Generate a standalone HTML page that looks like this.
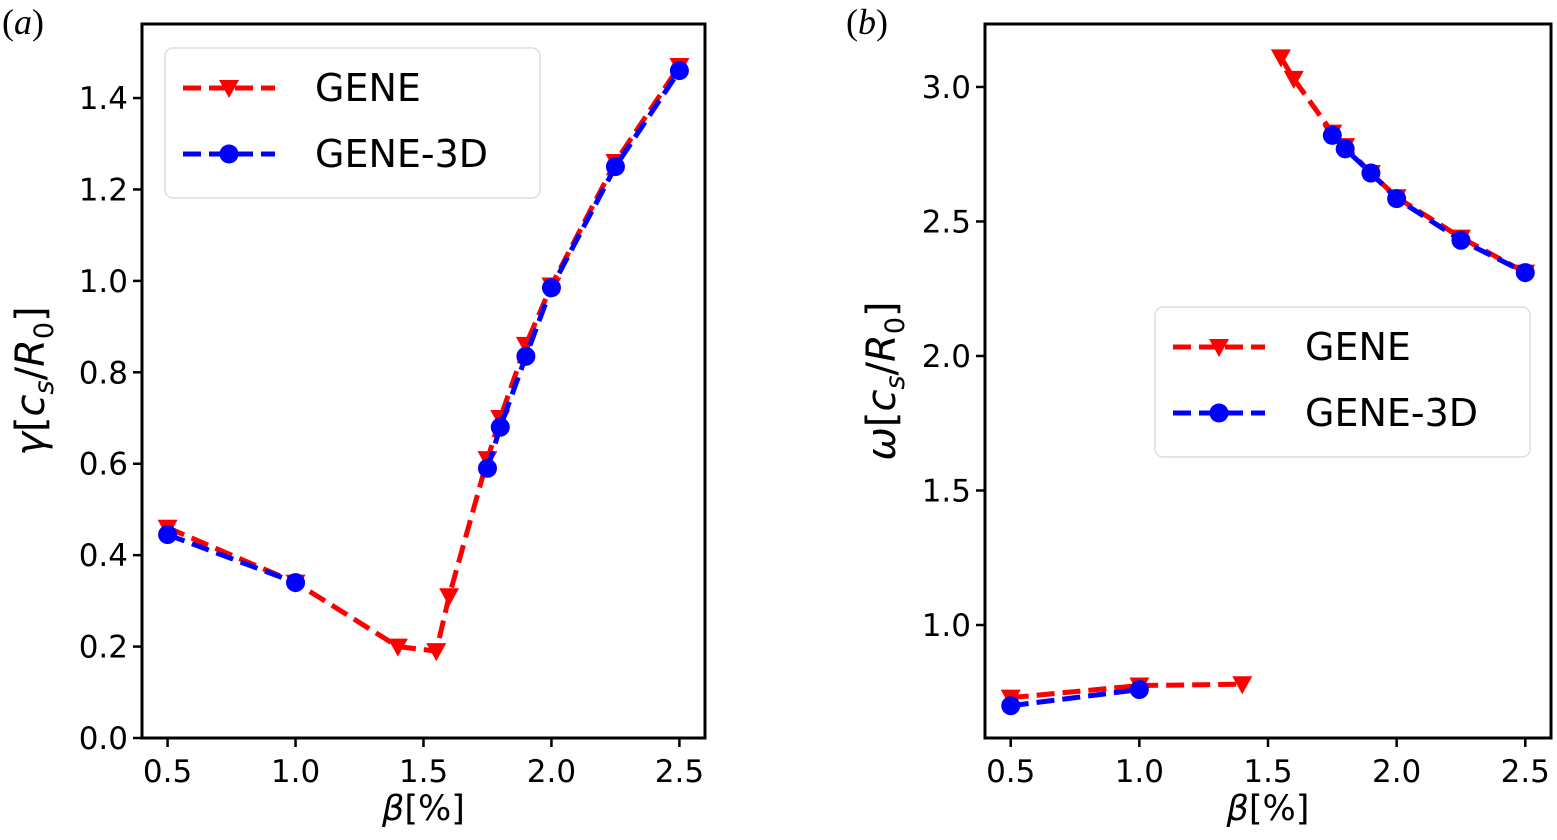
<!DOCTYPE html>
<html><head><meta charset="utf-8">
<style>
html,body{margin:0;padding:0;background:#fff;}
svg{display:block;font-family:"DejaVu Sans","Liberation Sans",sans-serif;}
</style></head>
<body>
<svg id="fig" width="1557" height="840" viewBox="0 0 1557 840" xmlns="http://www.w3.org/2000/svg"></svg>
<script>
const xTicks = [0.5, 1.0, 1.5, 2.0, 2.5];
const xTickLabels = ["0.5", "1.0", "1.5", "2.0", "2.5"];
const gammaTicks = [0.0, 0.2, 0.4, 0.6, 0.8, 1.0, 1.2, 1.4];
const gammaTickLabels = ["0.0", "0.2", "0.4", "0.6", "0.8", "1.0", "1.2", "1.4"];
const omegaTicks = [1.0, 1.5, 2.0, 2.5, 3.0];
const omegaTickLabels = ["1.0", "1.5", "2.0", "2.5", "3.0"];
const geneBeta = [0.5, 1.0, 1.4, 1.55, 1.6, 1.75, 1.8, 1.9, 2.0, 2.25, 2.5];
const geneGamma = [0.46, 0.34, 0.20, 0.19, 0.31, 0.61, 0.70, 0.86, 0.99, 1.26, 1.47];
const gene3dBetaLowG = [0.5, 1.0];
const gene3dGammaLow = [0.445, 0.34];
const gene3dBetaHighG = [1.75, 1.8, 1.9, 2.0, 2.25, 2.5];
const gene3dGammaHigh = [0.59, 0.68, 0.835, 0.985, 1.25, 1.46];
const geneOmegaLow = [0.73, 0.775, 0.78];
const geneBetaLow = [0.5, 1.0, 1.4];
const geneOmegaHigh = [3.11, 3.03, 2.83, 2.78, 2.68, 2.59, 2.44, 2.31];
const geneBetaHigh = [1.55, 1.6, 1.75, 1.8, 1.9, 2.0, 2.25, 2.5];
const gene3dOmegaLow = [0.70, 0.76];
const gene3dBetaLow = [0.5, 1.0];
const gene3dOmegaHigh = [2.82, 2.77, 2.68, 2.585, 2.43, 2.31];
const gene3dBetaHigh = [1.75, 1.8, 1.9, 2.0, 2.25, 2.5];

const NS = "http://www.w3.org/2000/svg";
const svg = document.getElementById('fig');
function mk(tag, attrs, parent, text){
  const e = document.createElementNS(NS, tag);
  for (const k in attrs) e.setAttribute(k, attrs[k]);
  if (text !== undefined) e.textContent = text;
  (parent || svg).appendChild(e);
  return e;
}
function scale(d0, d1, p0, p1){ return v => p0 + (v - d0) * (p1 - p0) / (d1 - d0); }

function panel(cfg){
  const g = mk('g', {});
  
  
  const X = scale(0.4, 2.6, cfg.L, cfg.R);
  const Y = scale(cfg.y0, cfg.y1, cfg.B, cfg.T);
  xTicks.forEach((t, i) => {
    const tk = mk('line', {x1: X(t), x2: X(t), y1: cfg.B, y2: cfg.B + 9, stroke: '#000', 'stroke-width': 2.5}, g);
    
    
    const lb = mk('text', {x: X(t), y: cfg.B + 44, 'font-size': 31, 'text-anchor': 'middle'}, g, xTickLabels[i]);
    
    
  });
  cfg.yTicks.forEach((t, i) => {
    const tk = mk('line', {x1: cfg.L - 9, x2: cfg.L, y1: Y(t), y2: Y(t), stroke: '#000', 'stroke-width': 2.5}, g);
    
    
    const lb = mk('text', {x: cfg.L - 14, y: Y(t) + 11, 'font-size': 31, 'text-anchor': 'end'}, g, cfg.yLabels[i]);
    
    
  });
  cfg.series.forEach(s => {
    const pts = s.xs.map((x, i) => X(x) + ',' + Y(s.ys[i])).join(' ');
    const pl = mk('polyline', {points: pts, fill: 'none', stroke: s.color, 'stroke-width': 5, 'stroke-dasharray': '18,8'}, g);
    
    
    s.xs.forEach((x, i) => {
      const cx = X(x), cy = Y(s.ys[i]);
      let m;
      if (s.marker === 'tri') {
        m = mk('polygon', {points: `${cx-10},${cy-8} ${cx+10},${cy-8} ${cx},${cy+10}`, fill: s.color}, g);
      } else {
        m = mk('circle', {cx: cx, cy: cy, r: 9.5, fill: s.color}, g);
      }
      
      
    });
  });
  const fr = mk('rect', {x: cfg.L, y: cfg.T, width: cfg.R - cfg.L, height: cfg.B - cfg.T, fill: 'none', stroke: '#000', 'stroke-width': 3}, g);
  
  
  const lg = mk('g', {}, g);
  
  
  const lx = cfg.legX, ly = cfg.legY;
  mk('rect', {x: lx, y: ly, width: 375, height: 150, rx: 8, fill: '#fff', 'fill-opacity': 0.85, stroke: '#ddd', 'stroke-width': 1.5}, lg);
  [['GENE', 'red', 'tri'], ['GENE-3D', 'blue', 'circ']].forEach((e, i) => {
    const cy = ly + 40 + i * 66;
    const en = mk('g', {}, lg);
    
    
    mk('line', {x1: lx + 18, x2: lx + 110, y1: cy, y2: cy, stroke: e[1], 'stroke-width': 5, 'stroke-dasharray': '18,8'}, en);
    if (e[2] === 'tri') mk('polygon', {points: `${lx+54},${cy-8} ${lx+74},${cy-8} ${lx+64},${cy+10}`, fill: e[1]}, en);
    else mk('circle', {cx: lx + 64, cy: cy, r: 9.5, fill: e[1]}, en);
    mk('text', {x: lx + 150, y: cy + 13, 'font-size': 38}, en, e[0]);
  });
  const xl = mk('text', {x: (cfg.L + cfg.R) / 2, y: 820, 'font-size': 35, 'text-anchor': 'middle'}, g);
  
  
  xl.innerHTML = '<tspan font-style="italic">β</tspan>[%]';
  const yl = mk('text', {x: 0, y: 0, 'font-size': 40, 'text-anchor': 'middle', transform: `translate(${cfg.yLabX},${(cfg.T + cfg.B) / 2}) rotate(-90)`}, g);
  
  
  yl.innerHTML = '<tspan font-style="italic">' + cfg.sym + '</tspan>[<tspan font-style="italic">c</tspan><tspan font-size="27" dy="9" font-style="italic">s</tspan><tspan dy="-9">/</tspan><tspan font-style="italic">R</tspan><tspan font-size="27" dy="9">0</tspan><tspan dy="-9">]</tspan>';
  const pl = mk('text', {x: cfg.panX, y: 34, 'font-size': 36, 'font-family': 'Liberation Serif, serif'}, g);
  
  
  pl.innerHTML = '(<tspan font-style="italic">' + cfg.letter + '</tspan>)';
}

panel({name: 'growth-rate-panel', L: 142, R: 705, T: 24, B: 738, y0: 0, y1: 1.562,
  yTicks: gammaTicks, yLabels: gammaTickLabels, legX: 165, legY: 48, yLabX: 44, sym: 'γ', letter: 'a', panX: 2,
  series: [
    {name: 'gene', xs: geneBeta, ys: geneGamma, color: 'red', marker: 'tri'},
    {name: 'gene-3d-low', xs: gene3dBetaLowG, ys: gene3dGammaLow, color: 'blue', marker: 'circ'},
    {name: 'gene-3d-high', xs: gene3dBetaHighG, ys: gene3dGammaHigh, color: 'blue', marker: 'circ'}
  ]});
panel({name: 'frequency-panel', L: 985, R: 1551, T: 24, B: 738, y0: 0.58, y1: 3.234,
  yTicks: omegaTicks, yLabels: omegaTickLabels, legX: 1155, legY: 307, yLabX: 895, sym: 'ω', letter: 'b', panX: 846,
  series: [
    {name: 'gene-low', xs: geneBetaLow, ys: geneOmegaLow, color: 'red', marker: 'tri'},
    {name: 'gene-high', xs: geneBetaHigh, ys: geneOmegaHigh, color: 'red', marker: 'tri'},
    {name: 'gene-3d-low', xs: gene3dBetaLow, ys: gene3dOmegaLow, color: 'blue', marker: 'circ'},
    {name: 'gene-3d-high', xs: gene3dBetaHigh, ys: gene3dOmegaHigh, color: 'blue', marker: 'circ'}
  ]});
</script>
</body></html>
